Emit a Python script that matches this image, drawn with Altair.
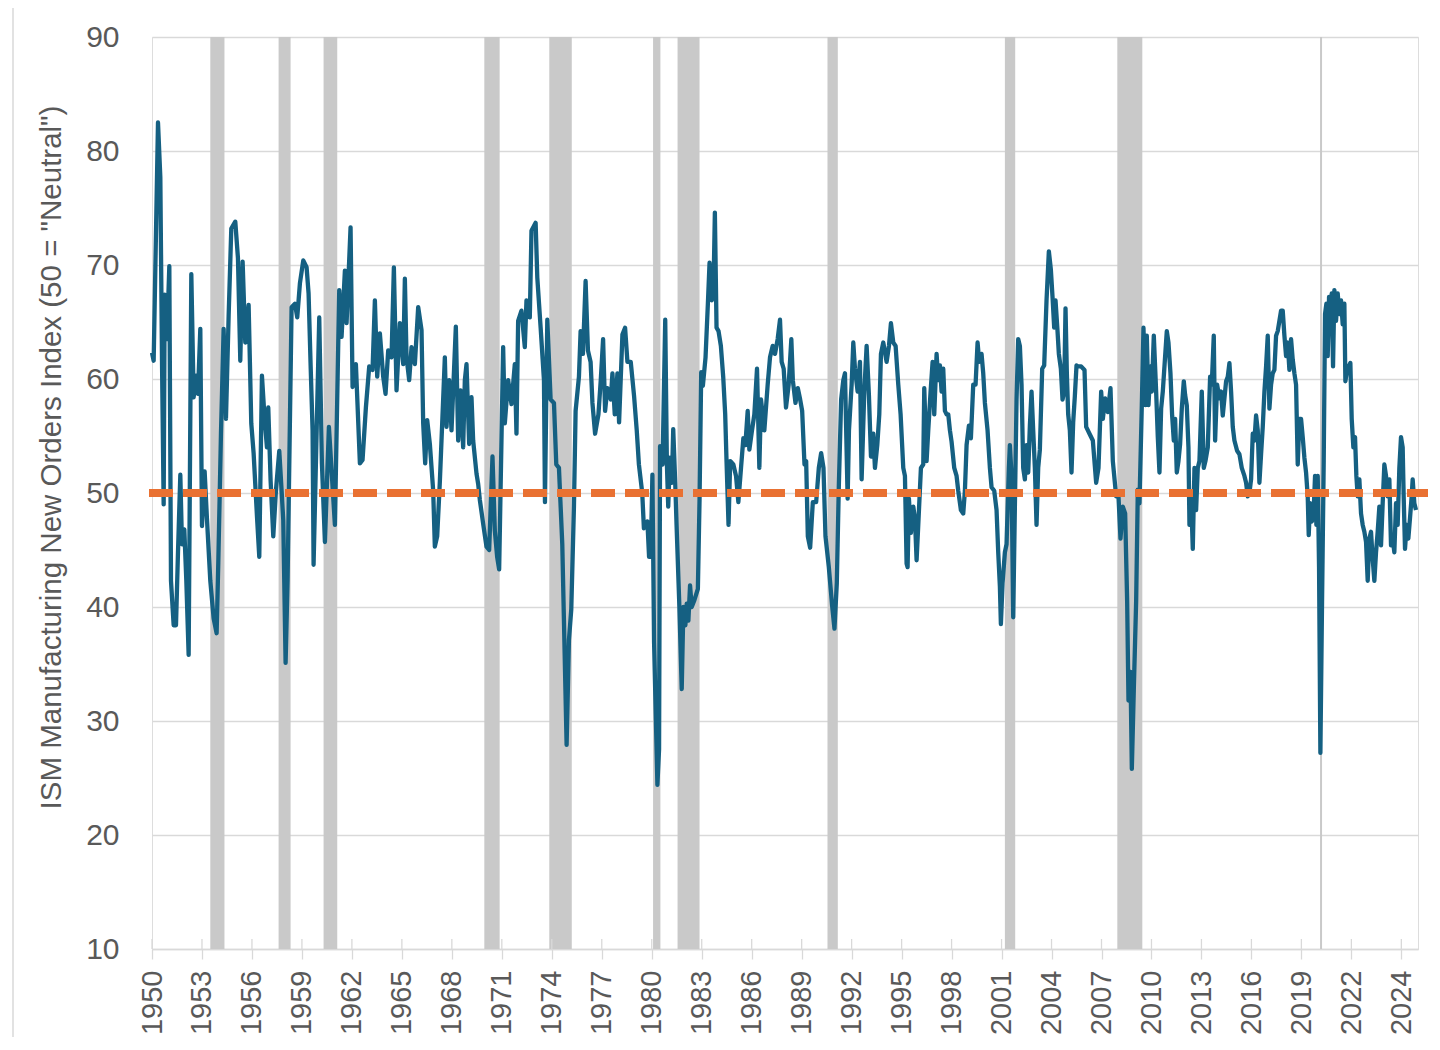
import json
import altair as alt
import pandas as pd

# ---------------- data (decimal years, index values) ----------------
dates_1950s = [1950.0, 1950.1, 1950.2, 1950.36, 1950.5, 1950.6, 1950.7, 1950.76, 1950.9, 1951.04,
               1951.14, 1951.3, 1951.44, 1951.56, 1951.7, 1951.8, 1951.94, 1952.06, 1952.2, 1952.36,
               1952.5, 1952.64, 1952.76, 1952.9, 1953.0, 1953.16, 1953.3, 1953.5, 1953.7, 1953.88,
               1953.98, 1954.14, 1954.3, 1954.44, 1954.6, 1954.76, 1955.0, 1955.16, 1955.3, 1955.44,
               1955.6, 1955.8, 1955.96, 1956.1, 1956.3, 1956.44, 1956.6, 1956.76, 1956.9, 1956.98,
               1957.12, 1957.28, 1957.44, 1957.64, 1957.78, 1957.88, 1958.02, 1958.14, 1958.38, 1958.58,
               1958.72, 1958.88, 1959.08, 1959.28, 1959.4, 1959.52, 1959.64, 1959.7]
values_1950s = [62.3, 61.6, 69.7, 82.5, 77.7, 61.6, 49.0, 67.4, 63.5, 69.9,
                42.3, 38.4, 38.4, 44.8, 51.6, 45.5, 46.8, 42.3, 35.8, 69.2,
                58.4, 60.3, 58.7, 64.4, 47.1, 51.9, 47.7, 42.3, 39.0, 37.7,
                43.9, 55.2, 64.4, 56.5, 65.5, 73.2, 73.8, 70.6, 61.6, 70.3,
                63.2, 66.5, 56.1, 53.5, 48.0, 44.4, 60.3, 56.5, 54.0, 57.5,
                51.1, 46.2, 50.2, 53.7, 50.2, 47.6, 35.1, 42.4, 66.3, 66.6,
                65.4, 68.4, 70.4, 69.8, 67.5, 61.3, 55.5, 43.7]

dates_1960s = [1960.04, 1960.2, 1960.38, 1960.48, 1960.62, 1960.98, 1961.24, 1961.38, 1961.58, 1961.68,
               1961.92, 1962.04, 1962.24, 1962.48, 1962.64, 1962.84, 1963.04, 1963.24, 1963.38, 1963.52,
               1963.68, 1963.88, 1964.02, 1964.18, 1964.38, 1964.52, 1964.68, 1964.88, 1965.08, 1965.18,
               1965.28, 1965.44, 1965.58, 1965.78, 1965.98, 1966.18, 1966.28, 1966.4, 1966.52, 1966.68,
               1966.88, 1966.98, 1967.12, 1967.28, 1967.58, 1967.68, 1967.84, 1967.98, 1968.24, 1968.38,
               1968.52, 1968.68, 1968.78, 1968.88, 1969.04, 1969.18, 1969.28, 1969.48, 1969.58, 1969.68,
               1969.88]
values_1960s = [65.4, 52.6, 45.7, 49.9, 55.8, 47.2, 67.8, 63.7, 69.5, 64.9,
                73.3, 59.3, 61.3, 52.6, 52.9, 57.5, 61.1, 60.8, 66.9, 60.2,
                64.0, 60.2, 58.7, 62.5, 61.9, 69.8, 59.0, 64.9, 61.3, 68.8,
                61.9, 59.9, 62.8, 61.3, 66.3, 64.3, 56.1, 52.6, 56.4, 54.3,
                50.2, 45.3, 46.2, 51.0, 61.9, 55.8, 59.9, 55.5, 64.6, 54.6,
                59.0, 54.0, 59.9, 61.3, 54.3, 58.4, 54.6, 51.7, 50.8, 49.4,
                47.3]

dates_1970s = [1970.08, 1970.24, 1970.44, 1970.58, 1970.72, 1970.84, 1971.08, 1971.18, 1971.38, 1971.58,
               1971.78, 1971.88, 1971.98, 1972.18, 1972.38, 1972.48, 1972.68, 1972.78, 1973.03, 1973.13,
               1973.33, 1973.53, 1973.59, 1973.73, 1973.93, 1974.13, 1974.27, 1974.43, 1974.63, 1974.73,
               1974.89, 1975.03, 1975.17, 1975.33, 1975.43, 1975.63, 1975.73, 1975.87, 1976.03, 1976.17,
               1976.33, 1976.44, 1976.6, 1976.8, 1976.94, 1977.08, 1977.2, 1977.34, 1977.54, 1977.64,
               1977.78, 1977.94, 1978.04, 1978.24, 1978.4, 1978.54, 1978.74, 1978.94, 1979.1, 1979.23,
               1979.43, 1979.53, 1979.74, 1979.84, 1979.94]
values_1970s = [45.3, 45.0, 53.2, 46.7, 44.4, 43.3, 62.8, 56.1, 59.9, 57.8,
                61.3, 55.2, 65.1, 66.0, 62.8, 66.9, 65.4, 73.0, 73.7, 68.9,
                64.5, 59.9, 49.2, 65.2, 58.2, 57.9, 52.5, 52.2, 45.5, 38.8,
                27.9, 37.1, 39.8, 48.8, 57.2, 60.2, 64.2, 62.2, 68.6, 62.5,
                61.5, 57.9, 55.2, 56.9, 59.9, 63.5, 57.2, 59.2, 58.2, 60.5,
                56.9, 60.5, 56.2, 63.9, 64.5, 61.5, 61.5, 58.5, 55.5, 52.5,
                50.0, 46.9, 47.5, 44.4, 44.4]

dates_1980s = [1980.04, 1980.14, 1980.34, 1980.44, 1980.5, 1980.65, 1980.81, 1980.91, 1980.99, 1981.09,
               1981.21, 1981.29, 1981.41, 1981.49, 1981.66, 1981.8, 1981.9, 1982.02, 1982.1, 1982.2,
               1982.3, 1982.4, 1982.56, 1982.77, 1982.87, 1982.97, 1983.07, 1983.23, 1983.37, 1983.47,
               1983.61, 1983.71, 1983.79, 1983.89, 1984.01, 1984.15, 1984.29, 1984.41, 1984.49, 1984.61,
               1984.71, 1984.9, 1985.06, 1985.2, 1985.36, 1985.5, 1985.62, 1985.76, 1985.86, 1986.02,
               1986.16, 1986.32, 1986.46, 1986.56, 1986.76, 1986.96, 1987.1, 1987.26, 1987.4, 1987.56,
               1987.7, 1987.8, 1987.92, 1988.06, 1988.22, 1988.38, 1988.47, 1988.63, 1988.77, 1988.91,
               1989.03, 1989.17, 1989.27, 1989.37, 1989.51, 1989.67, 1989.87]
values_1980s = [51.6, 36.9, 24.4, 27.5, 54.1, 52.5, 65.2, 52.5, 48.8, 53.1,
                50.9, 55.6, 50.9, 47.2, 40.0, 32.8, 40.0, 38.4, 40.3, 38.8,
                41.9, 40.0, 40.6, 41.6, 49.4, 60.6, 59.4, 61.9, 66.6, 70.2,
                66.9, 68.1, 74.6, 64.5, 64.2, 62.9, 60.2, 56.9, 52.8, 47.2,
                52.8, 52.5, 51.5, 49.2, 52.2, 54.8, 54.2, 57.2, 53.8, 55.5,
                56.9, 60.9, 52.2, 58.2, 55.5, 59.5, 61.9, 62.9, 62.2, 63.5,
                65.2, 61.5, 60.9, 57.5, 59.5, 63.5, 59.9, 57.9, 59.2, 58.2,
                57.2, 52.5, 52.8, 46.2, 45.2, 49.2, 49.2]

dates_1990s = [1990.03, 1990.17, 1990.31, 1990.43, 1990.63, 1990.83, 1990.97, 1991.11, 1991.23, 1991.37,
               1991.5, 1991.6, 1991.76, 1991.84, 1992.0, 1992.1, 1992.2, 1992.36, 1992.5, 1992.6,
               1992.76, 1992.9, 1993.04, 1993.16, 1993.3, 1993.4, 1993.54, 1993.66, 1993.76, 1993.9,
               1994.1, 1994.24, 1994.36, 1994.5, 1994.64, 1994.8, 1994.94, 1995.1, 1995.2, 1995.3,
               1995.36, 1995.44, 1995.56, 1995.7, 1995.8, 1995.9, 1996.0, 1996.16, 1996.3, 1996.36,
               1996.5, 1996.6, 1996.74, 1996.86, 1996.96, 1997.1, 1997.2, 1997.3, 1997.4, 1997.5,
               1997.6, 1997.7, 1997.8, 1997.9, 1998.0, 1998.16, 1998.3, 1998.4, 1998.56, 1998.7,
               1998.8, 1998.9, 1999.04, 1999.16, 1999.3, 1999.44, 1999.56, 1999.66, 1999.8, 1999.9]
values_1990s = [52.2, 53.5, 52.2, 46.2, 43.5, 40.1, 38.1, 42.1, 50.5, 58.2,
                59.9, 60.5, 49.5, 55.5, 59.5, 63.2, 60.9, 58.9, 61.5, 51.2,
                58.9, 62.9, 58.5, 53.2, 55.2, 52.2, 54.2, 56.9, 62.2, 63.2,
                61.5, 62.9, 64.9, 63.2, 62.9, 59.5, 56.9, 52.2, 51.5, 43.8,
                43.5, 49.5, 46.5, 48.8, 47.8, 44.1, 47.2, 52.2, 52.5, 59.2,
                52.8, 55.5, 58.9, 61.5, 56.9, 62.2, 59.9, 61.2, 58.9, 60.9,
                57.2, 56.9, 56.9, 55.5, 54.5, 52.2, 51.5, 50.2, 48.5, 48.2,
                50.2, 54.2, 55.9, 54.8, 59.5, 59.5, 63.2, 61.5, 62.2, 60.5]

dates_2000s = [2000.0, 2000.16, 2000.3, 2000.4, 2000.56, 2000.7, 2000.8, 2000.9, 2000.96, 2001.06,
               2001.2, 2001.3, 2001.44, 2001.5, 2001.6, 2001.7, 2001.8, 2001.9, 2002.0, 2002.1,
               2002.2, 2002.3, 2002.4, 2002.5, 2002.6, 2002.7, 2002.8, 2002.9, 2003.0, 2003.1,
               2003.2, 2003.3, 2003.44, 2003.56, 2003.7, 2003.84, 2003.96, 2004.06, 2004.16, 2004.24,
               2004.36, 2004.44, 2004.56, 2004.66, 2004.76, 2004.84, 2004.92, 2005.0, 2005.1, 2005.2,
               2005.3, 2005.4, 2005.5, 2005.58, 2005.78, 2005.98, 2006.08, 2006.28, 2006.48, 2006.68,
               2006.82, 2006.98, 2007.08, 2007.22, 2007.38, 2007.54, 2007.68, 2007.88, 2008.02, 2008.14,
               2008.28, 2008.42, 2008.54, 2008.62, 2008.74, 2008.82, 2008.94, 2009.08, 2009.18, 2009.28,
               2009.42, 2009.52, 2009.64, 2009.72, 2009.82, 2009.94]
values_2000s = [57.9, 55.5, 52.2, 50.5, 50.2, 48.5, 44.8, 41.8, 38.5, 42.1,
                44.8, 45.5, 52.2, 54.2, 51.5, 39.1, 48.8, 58.2, 63.5, 62.9,
                59.5, 52.2, 51.2, 54.2, 51.8, 55.9, 58.9, 55.5, 52.2, 47.2,
                52.2, 53.8, 60.9, 61.2, 66.9, 71.2, 69.6, 67.2, 64.5, 66.9,
                64.2, 62.2, 60.9, 58.2, 58.9, 66.2, 60.5, 56.9, 55.5, 51.8,
                56.2, 58.5, 61.2, 61.1, 61.1, 60.8, 55.8, 55.2, 54.6, 50.9,
                52.2, 58.9, 56.5, 58.3, 57.1, 59.2, 52.8, 49.7, 49.7, 46.0,
                48.8, 48.2, 40.5, 31.8, 34.3, 25.8, 32.8, 40.5, 50.3, 49.1,
                57.7, 64.5, 57.7, 63.8, 57.7, 61.1]

dates_2010s = [2010.02, 2010.14, 2010.28, 2010.38, 2010.48, 2010.58, 2010.68, 2010.82, 2010.92, 2011.02,
               2011.14, 2011.24, 2011.34, 2011.42, 2011.52, 2011.62, 2011.72, 2011.82, 2011.94, 2012.02,
               2012.12, 2012.22, 2012.28, 2012.38, 2012.48, 2012.58, 2012.68, 2012.78, 2012.88, 2013.02,
               2013.14, 2013.24, 2013.38, 2013.52, 2013.62, 2013.74, 2013.82, 2013.94, 2014.08, 2014.18,
               2014.28, 2014.38, 2014.48, 2014.58, 2014.68, 2014.78, 2014.88, 2014.98, 2015.14, 2015.28,
               2015.42, 2015.58, 2015.68, 2015.78, 2015.88, 2015.98, 2016.08, 2016.18, 2016.28, 2016.38,
               2016.48, 2016.58, 2016.68, 2016.78, 2016.88, 2016.98, 2017.08, 2017.18, 2017.28, 2017.38,
               2017.48, 2017.58, 2017.68, 2017.78, 2017.88, 2017.98, 2018.08, 2018.18, 2018.28, 2018.38,
               2018.48, 2018.58, 2018.68, 2018.78, 2018.88, 2018.98, 2019.08, 2019.18, 2019.28, 2019.38,
               2019.44, 2019.52, 2019.62, 2019.72, 2019.82, 2019.9, 2019.98]
values_2010s = [58.9, 63.8, 58.9, 54.9, 51.8, 57.4, 58.9, 62.0, 64.2, 63.2,
                60.5, 56.8, 54.6, 56.5, 51.8, 52.8, 54.3, 57.4, 59.8, 58.6,
                57.7, 54.0, 47.2, 49.7, 45.1, 52.2, 48.5, 52.2, 52.8, 58.9,
                52.2, 52.8, 54.0, 60.2, 59.5, 63.8, 54.6, 59.5, 58.3, 58.9,
                56.8, 58.3, 59.8, 60.2, 61.4, 58.9, 55.8, 54.6, 53.7, 53.4,
                52.2, 51.5, 50.9, 49.7, 50.0, 51.2, 55.2, 54.6, 56.8, 55.5,
                50.9, 53.4, 55.8, 58.9, 61.1, 63.8, 57.4, 59.5, 60.5, 60.8,
                63.8, 64.2, 65.1, 66.0, 66.0, 63.8, 62.0, 63.2, 60.8, 63.5,
                61.7, 60.5, 59.5, 52.5, 56.5, 56.5, 54.9, 53.1, 51.8, 49.7,
                46.3, 49.1, 47.5, 47.8, 51.5, 47.2, 51.5]

dates_2020s = [2020.06, 2020.14, 2020.24, 2020.34, 2020.42, 2020.5, 2020.58, 2020.66, 2020.74, 2020.82,
               2020.9, 2020.98, 2021.08, 2021.18, 2021.28, 2021.38, 2021.48, 2021.58, 2021.64, 2021.74,
               2021.84, 2021.94, 2022.02, 2022.12, 2022.22, 2022.3, 2022.38, 2022.48, 2022.58, 2022.68,
               2022.78, 2022.88, 2022.98, 2023.08, 2023.18, 2023.28, 2023.38, 2023.48, 2023.58, 2023.68,
               2023.78, 2023.88, 2023.98, 2024.08, 2024.18, 2024.28, 2024.38, 2024.48, 2024.58, 2024.68,
               2024.78, 2024.88, 2024.98, 2025.08, 2025.14, 2025.22, 2025.32, 2025.42, 2025.52, 2025.62,
               2025.68, 2025.78, 2025.88]
values_2020s = [43.5, 27.2, 40.5, 52.8, 65.7, 66.6, 62.0, 67.2, 64.2, 67.5,
                61.1, 67.8, 65.1, 67.5, 65.7, 66.9, 64.8, 66.6, 59.8, 60.8,
                61.1, 61.4, 56.5, 54.0, 54.9, 51.5, 49.7, 51.2, 48.2, 47.2,
                46.6, 45.7, 42.3, 46.0, 46.6, 44.2, 42.3, 44.8, 46.6, 48.8,
                45.4, 49.1, 52.5, 51.5, 49.7, 51.2, 45.4, 46.0, 44.8, 49.1,
                47.2, 52.2, 54.9, 54.0, 49.7, 45.1, 47.2, 46.0, 47.8, 49.7,
                51.2, 49.1, 48.5]

# NBER recessions (decimal years)
rec_start = [1953.5, 1957.6, 1960.3, 1969.95, 1973.85, 1980.08, 1981.55, 1990.55, 2001.2, 2007.95, 2020.12]
rec_end = [1954.35, 1958.32, 1961.12, 1970.87, 1975.2, 1980.52, 1982.87, 1991.17, 2001.82, 2009.45, 2020.24]

neutral_level = [50]

x_ticks = [1950, 1953, 1956, 1959, 1962, 1965, 1968, 1971, 1974, 1977, 1980, 1983, 1986,
           1989, 1992, 1995, 1998, 2001, 2004, 2007, 2010, 2013, 2016, 2019, 2022, 2025]
x_labels = ["1950", "1953", "1956", "1959", "1962", "1965", "1968", "1971", "1974", "1977",
            "1980", "1983", "1986", "1989", "1992", "1995", "1998", "2001", "2004", "2007",
            "2010", "2013", "2016", "2019", "2022", "2024"]
y_ticks = [10, 20, 30, 40, 50, 60, 70, 80, 90]

# ---------------- frames ----------------
all_dates = dates_1950s + dates_1960s + dates_1970s + dates_1980s + dates_1990s + dates_2000s + dates_2010s + dates_2020s
all_vals = values_1950s + values_1960s + values_1970s + values_1980s + values_1990s + values_2000s + values_2010s + values_2020s
series = pd.DataFrame({"year": all_dates, "value": all_vals})
rec = pd.DataFrame({"start": rec_start, "end": rec_end})
neutral = pd.DataFrame({"value": neutral_level})
ticks_df = pd.DataFrame({"year": x_ticks})

W, H = 1266, 912
FONT = "Liberation Sans"
GREY_TXT = "#595959"
GRID = "#d9d9d9"

xscale = alt.Scale(domain=[1950, 2026], nice=False, zero=False)
yscale = alt.Scale(domain=[10, 90], nice=False, zero=False)

label_expr = f"{json.dumps(x_labels)}[indexof({json.dumps(x_ticks)}, datum.value)]"

x_axis = alt.Axis(values=x_ticks, labelExpr=label_expr, labelAngle=270, labelAlign="right",
                  labelBaseline="middle", labelFontSize=29, labelColor=GREY_TXT, labelFont=FONT,
                  labelPadding=11, tickSize=10, tickColor=GRID, tickWidth=1.3, domainColor=GRID,
                  domainWidth=1.3, grid=False, labelOverlap=False, labelFlush=False, title=None)
y_axis = alt.Axis(values=y_ticks, labelFontSize=30, labelColor=GREY_TXT, labelFont=FONT, labelPadding=33,
                  domain=False, ticks=False, grid=True, gridColor=GRID, gridWidth=1.3,
                  title='ISM Manufacturing New Orders Index (50 = "Neutral")', titleFont=FONT,
                  titleFontSize=29.5, titleFontWeight="normal", titleColor=GREY_TXT,
                  titleX=-86, titleY=420, titleBaseline="bottom", titleAngle=270)

base_rect = alt.Chart(rec).mark_rect(color="#c9c9c9").encode(
    x=alt.X("start:Q", scale=xscale, axis=x_axis),
    x2="end:Q",
    y=alt.value(0),
    y2=alt.value(H),
)

line = alt.Chart(series).mark_line(color="#156082", strokeWidth=4.3, strokeJoin="round").encode(
    x=alt.X("year:Q", scale=xscale, title=None),
    y=alt.Y("value:Q", scale=yscale, axis=y_axis),
    order="year:Q",
)

cross_ticks = alt.Chart(ticks_df).mark_rule(color=GRID, strokeWidth=1.3).encode(
    x=alt.X("year:Q", scale=xscale, title=None),
    y=alt.value(H - 10),
    y2=alt.value(H),
)

dash = alt.Chart(neutral).mark_rule(color="#E97132", strokeWidth=8, strokeDash=[24, 10],
                                    strokeCap="butt").encode(
    y=alt.Y("value:Q", scale=yscale),
    x=alt.value(-3),
    x2=alt.value(W + 10),
)

frame = alt.Chart(neutral).mark_rect(fill=None, stroke="#d9d9d9", strokeWidth=1.5, clip=False).encode(
    x=alt.value(-139), x2=alt.value(W + 40), y=alt.value(-32), y2=alt.value(H + 99),
)

chart = alt.layer(base_rect, cross_ticks, line, dash, frame).properties(
    width=W, height=H,
    autosize=alt.AutoSizeParams(type="none"),
    padding={"left": 144, "top": 29, "right": 12, "bottom": 88},
).configure_view(stroke=None).configure(background="white")

chart.save("out.html", embed_options={"renderer": "svg", "actions": False})
